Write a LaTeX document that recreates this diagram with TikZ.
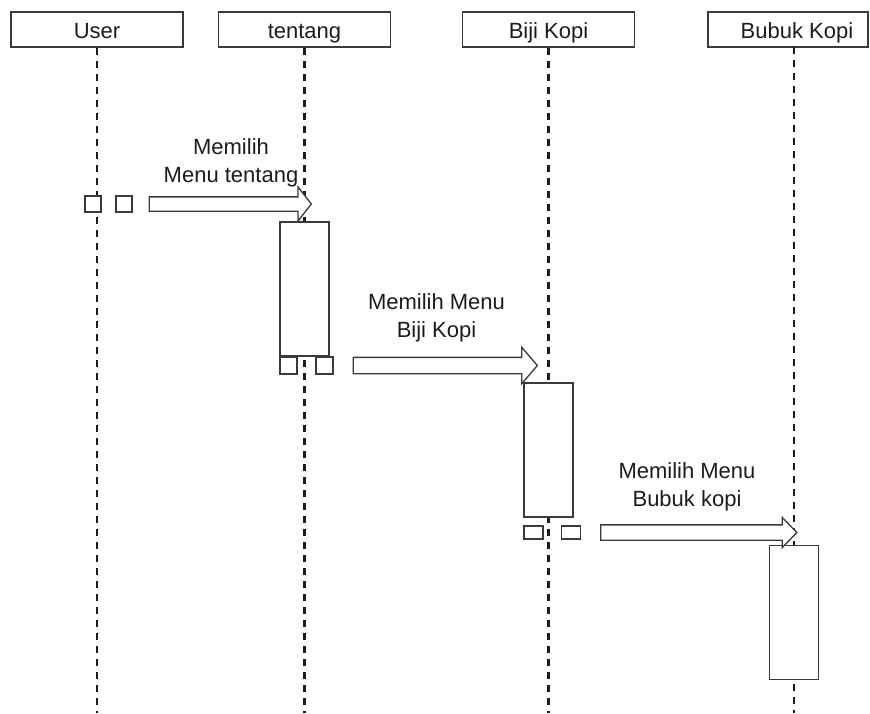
\documentclass[tikz,border=0pt]{standalone}
\usepackage{fontspec}
\setmainfont{Liberation Sans}
\usetikzlibrary{positioning}
\usetikzlibrary{shapes.arrows}
\definecolor{sd-line}{HTML}{3A3A3A}
\definecolor{sd-text}{HTML}{1C1C1C}

\begin{document}
\begin{tikzpicture}[
    x=1pt, y=-1pt,
    % Object header boxes, lifelines, activation bars
    headbox/.style={draw=sd-line, line width=1.3pt, fill=white, minimum width=172pt, minimum height=35pt, inner sep=0pt, text height=17pt, text depth=0pt, font=\fontsize{22}{26}\selectfont, text=sd-text},
    lifeline/.style={draw=sd-text, line width=2.7pt, dash pattern=on 7pt off 6pt},
    actbox/.style={draw=sd-line, line width=1.3pt, fill=white, minimum width=49pt, minimum height=134pt, inner sep=0pt},
    sqbox/.style={draw=sd-line, line width=1.3pt, fill=white, minimum width=17pt, minimum height=17pt, inner sep=0pt},
    % Block arrows for the messages
    msgarrow/.style={draw=sd-line, line width=1.3pt, fill=white, single arrow, single arrow head extend=10pt, inner sep=0pt},
    msglabel/.style={font=\fontsize{22}{28}\selectfont, text=sd-text, align=center}
  ]
  \useasboundingbox (0,0) rectangle (870,713);
  \coordinate (bottom) at (0,713);

  % =========================================================================
  % OBJECTS
  % =========================================================================
  \node[headbox] (hUser) at (97,29.5) {User};
  \node[headbox] (hTentang) at (304.5,29.5) {tentang};
  \node[headbox] (hBiji) at (548.5,29.5) {Biji Kopi};
  \node[headbox, minimum width=160pt] (hBubuk) at (788,29.5) {\hspace*{18pt}Bubuk Kopi};
  \coordinate (topBubuk) at (794,47);

  % Lifelines
  \draw[lifeline] (hUser) -- (hUser |- bottom);
  \draw[lifeline] (hTentang) -- (hTentang |- bottom);
  \draw[lifeline] (hBiji) -- (hBiji |- bottom);
  \draw[lifeline] (topBubuk) -- (topBubuk |- bottom);

  % =========================================================================
  % ACTIVATIONS
  % =========================================================================
  \node[actbox] (act1) at (304.5,289) {};
  \node[actbox] (act2) at (548.5,450) {};
  \node[actbox] (act3) at (794,612.5) {};

  % Small boxes in front of each message
  \node[sqbox, minimum width=16pt, minimum height=16pt] (s1a) at (93,204) {};
  \node[sqbox, minimum width=16pt, minimum height=16pt] (s1b) at (124,204) {};
  \node[sqbox] (s2a) at (288.5,365.5) {};
  \node[sqbox] (s2b) at (324.5,365.5) {};
  \node[sqbox, minimum width=19pt, minimum height=13pt] (s3a) at (533.5,532.5) {};
  \node[sqbox, minimum width=19pt, minimum height=13pt] (s3b) at (571,532.5) {};

  % =========================================================================
  % MESSAGES
  % =========================================================================
  \node[msgarrow, inner ysep=6.5pt, minimum height=162pt, minimum width=33pt, single arrow tip angle=104, right=16pt of s1b] (m1) {};
  \node[msgarrow, inner ysep=7.5pt, minimum height=184pt, minimum width=35pt, single arrow tip angle=99, right=19pt of s2b] (m2) {};
  \node[msgarrow, inner ysep=7pt, minimum height=196pt, minimum width=29pt, single arrow head extend=7.5pt, single arrow tip angle=92, right=19pt of s3b] (m3) {};

  \node[msglabel] (l1) at (231,163) {Memilih\\Menu tentang};
  \node[msglabel] (l2) at (436.5,318) {Memilih Menu\\Biji Kopi};
  \node[msglabel] (l3) at (687,486.5) {Memilih Menu\\Bubuk kopi};

\end{tikzpicture}
\end{document}
